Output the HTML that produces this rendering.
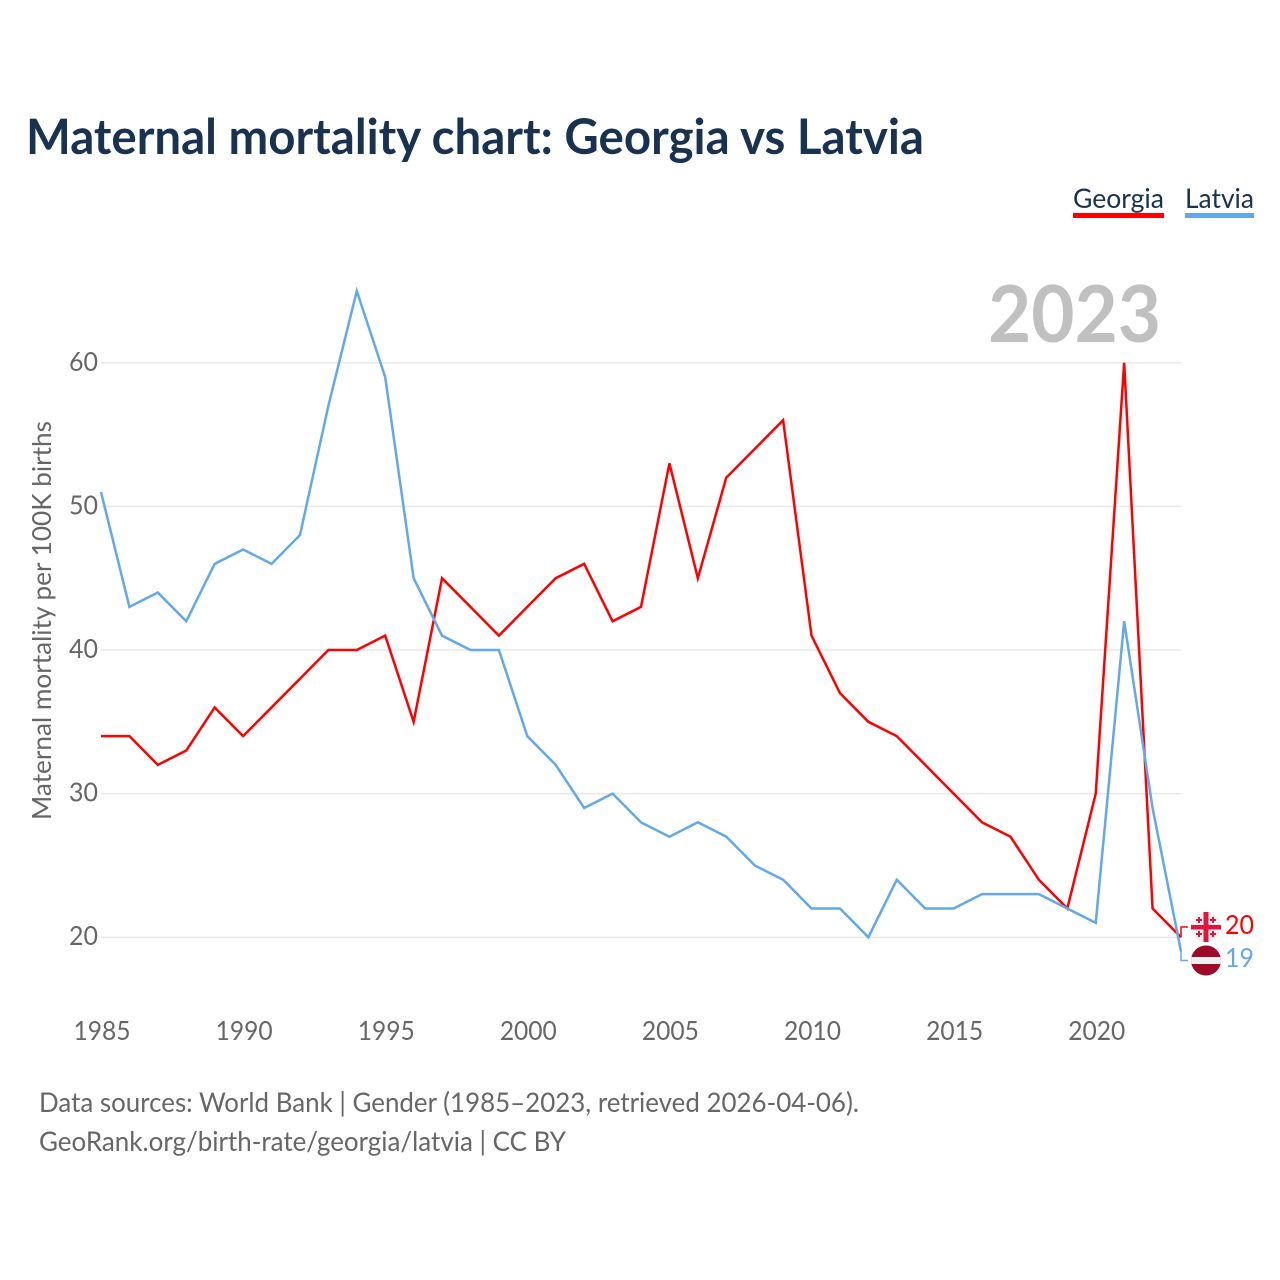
<!DOCTYPE html>
<html lang="en">
<head>
<meta charset="utf-8">
<title>Maternal mortality chart: Georgia vs Latvia</title>
<style>
html,body{margin:0;padding:0;background:#fff;}
svg{display:block;}
text{font-family:Lato,Carlito,"Liberation Sans",sans-serif;}
</style>
</head>
<body>
<svg id="chart" width="1280" height="1280" viewBox="0 0 1280 1280" xmlns="http://www.w3.org/2000/svg">
  <rect width="1280" height="1280" fill="#fff"/>
  <text x="26" y="154" font-size="49" font-weight="700" fill="#18324f" textLength="898" lengthAdjust="spacingAndGlyphs">Maternal mortality chart: Georgia vs Latvia</text>

  <g>
    <g>
      <text x="1073" y="208" font-size="27" fill="#18324f" textLength="91" lengthAdjust="spacingAndGlyphs">Georgia</text>
      <rect x="1073" y="213" width="91" height="5" fill="#ff0000"/>
    </g>
    <g>
      <text x="1185" y="208" font-size="27" fill="#18324f" textLength="69" lengthAdjust="spacingAndGlyphs">Latvia</text>
      <rect x="1185" y="213" width="69" height="5" fill="#62a8ea"/>
    </g>
  </g>

  <text x="1161" y="342" font-size="79" font-weight="700" fill="#c0c0c0" text-anchor="end" textLength="173" lengthAdjust="spacingAndGlyphs">2023</text>

  <g id="grid"></g>
  <g id="yticks"></g>
  <g id="xticks"></g>

  <text transform="translate(51,820) rotate(-90)" font-size="26" fill="#666666" textLength="399" lengthAdjust="spacingAndGlyphs">Maternal mortality per 100K births</text>

  <polyline id="line-georgia" fill="none" stroke="#ff0000" stroke-width="2.5" stroke-linejoin="miter"/>
  <polyline id="line-latvia" fill="none" stroke="#62a8ea" stroke-width="2.5" stroke-linejoin="miter"/>

  <polyline id="connector-georgia" fill="none" stroke="#ff0000" stroke-width="1.5"/>
  <polyline id="connector-latvia" fill="none" stroke="#62a8ea" stroke-width="1.5"/>

  <g>
    <circle cx="1206" cy="927" r="15" fill="#f0f0f0"/>
    <rect x="1203.500" y="912" width="5" height="30" fill="#e0143c"/>
    <rect x="1191" y="925" width="30" height="4.500" fill="#e0143c"/>
    <path d="M1198 917h2v2h2v2h-2v2h-2v-2h-2v-2h2zM1212 917h2v2h2v2h-2v2h-2v-2h-2v-2h2zM1198 931h2v2h2v2h-2v2h-2v-2h-2v-2h2zM1212 931h2v2h2v2h-2v2h-2v-2h-2v-2h2z" fill="#e0143c"/>
  </g>
  <g>
    <clipPath id="latvia-clip"><circle cx="1206" cy="960.500" r="15"/></clipPath>
    <g clip-path="url(#latvia-clip)">
      <rect x="1191" y="945" width="30" height="31" fill="#9e0a28"/>
      <rect x="1191" y="957" width="30" height="7" fill="#f0f0f0"/>
    </g>
  </g>

  <text id="value-georgia" x="1225" y="934" font-size="26" fill="#ff0000" textLength="29" lengthAdjust="spacingAndGlyphs"></text>
  <text id="value-latvia" x="1225" y="967" font-size="26" fill="#62a8ea" textLength="29" lengthAdjust="spacingAndGlyphs"></text>

  <text x="39" y="1112" font-size="27" fill="#666666" textLength="820" lengthAdjust="spacingAndGlyphs">Data sources: World Bank | Gender (1985–2023, retrieved 2026-04-06).</text>
  <a><text x="39" y="1151" font-size="27" fill="#666666" textLength="527" lengthAdjust="spacingAndGlyphs">GeoRank.org/birth-rate/georgia/latvia | CC BY</text></a>
</svg>
<script>
const firstYear = 1985;
const georgiaValues = [34,34,32,33,36,34,36,38,40,40,41,35,45,43,41,43,45,46,42,43,53,45,52,54,56,41,37,35,34,32,30,28,27,24,22,30,60,22,20];
const latviaValues = [51,43,44,42,46,47,46,48,57,65,59,45,41,40,40,34,32,29,30,28,27,28,27,25,24,22,22,20,24,22,22,23,23,23,22,21,42,29,19];
const yTickValues = [20,30,40,50,60];
const xTickLabels = [1985,1990,1995,2000,2005,2010,2015,2020];

const NS = 'http://www.w3.org/2000/svg';
const lastYear = firstYear + georgiaValues.length - 1;
function xScale(year){ return 101 + (year - firstYear) * (1181 - 101) / (lastYear - firstYear); }
function yScale(v){ return 937.2 - (v - 20) * (937.2 - 362.8) / 40; }
function pointsFor(values){
  return values.map(function(v,i){ return xScale(firstYear + i).toFixed(2) + ',' + yScale(v).toFixed(2); }).join(' ');
}

document.getElementById('line-georgia').setAttribute('points', pointsFor(georgiaValues));
document.getElementById('line-latvia').setAttribute('points', pointsFor(latviaValues));

const grid = document.getElementById('grid');
const yTicks = document.getElementById('yticks');
yTickValues.forEach(function(v){
  const line = document.createElementNS(NS,'line');
  
  
  line.setAttribute('x1', 101);
  line.setAttribute('x2', 1181);
  line.setAttribute('y1', yScale(v));
  line.setAttribute('y2', yScale(v));
  line.setAttribute('stroke', '#e8e8e8');
  line.setAttribute('stroke-width', '1.5');
  grid.appendChild(line);
  const label = document.createElementNS(NS,'text');
  
  
  label.setAttribute('x', 98);
  label.setAttribute('y', yScale(v) + 8);
  label.setAttribute('font-size', '26');
  label.setAttribute('fill', '#666666');
  label.setAttribute('text-anchor', 'end');
  label.setAttribute('textLength', '29');
  label.setAttribute('lengthAdjust', 'spacingAndGlyphs');
  label.textContent = v;
  yTicks.appendChild(label);
});

const xTicks = document.getElementById('xticks');
xTickLabels.forEach(function(y){
  const label = document.createElementNS(NS,'text');
  
  
  label.setAttribute('x', xScale(y) + 1);
  label.setAttribute('y', 1040);
  label.setAttribute('font-size', '26');
  label.setAttribute('fill', '#666666');
  label.setAttribute('text-anchor', 'middle');
  label.setAttribute('textLength', '57');
  label.setAttribute('lengthAdjust', 'spacingAndGlyphs');
  label.textContent = y;
  xTicks.appendChild(label);
});

const endX = xScale(lastYear);
const gEnd = georgiaValues[georgiaValues.length - 1];
const lEnd = latviaValues[latviaValues.length - 1];
document.getElementById('connector-georgia').setAttribute('points',
  endX + ',' + yScale(gEnd) + ' ' + endX + ',927 1188,927');
document.getElementById('connector-latvia').setAttribute('points',
  endX + ',' + yScale(lEnd) + ' ' + endX + ',960.500 1188,960.500');
document.getElementById('value-georgia').textContent = gEnd;
document.getElementById('value-latvia').textContent = lEnd;
</script>
</body>
</html>
